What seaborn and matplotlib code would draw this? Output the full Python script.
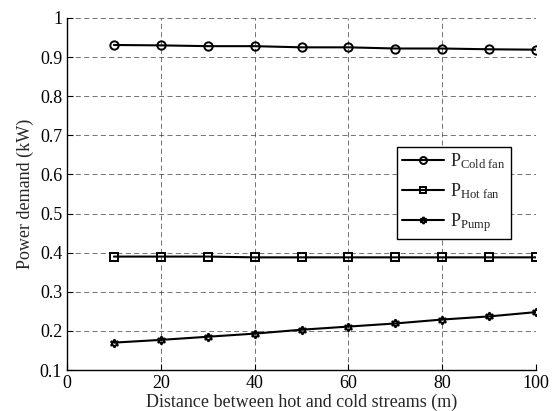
import matplotlib
matplotlib.use("Agg")
import matplotlib.pyplot as plt
import seaborn as sns
import pandas as pd

# Data
distance = [10, 20, 30, 40, 50, 60, 70, 80, 90, 100]
p_cold_fan = [0.931, 0.930, 0.928, 0.928, 0.925, 0.925, 0.922, 0.922, 0.920, 0.919]
p_hot_fan = [0.390, 0.390, 0.390, 0.388, 0.388, 0.388, 0.388, 0.388, 0.388, 0.388]
p_pump = [0.170, 0.177, 0.185, 0.193, 0.203, 0.211, 0.219, 0.229, 0.237, 0.248]

series = [
    ("P$_{\\mathrm{Cold\\ fan}}$", p_cold_fan, "o"),
    ("P$_{\\mathrm{Hot\\ fan}}$", p_hot_fan, "s"),
    ("P$_{\\mathrm{Pump}}$", p_pump, (6, 1, 0)),
]

sns.set_style("ticks")
plt.rcParams["font.family"] = ["Liberation Serif", "DejaVu Serif"]
plt.rcParams["mathtext.fontset"] = "custom"
plt.rcParams["mathtext.rm"] = "Liberation Serif"
plt.rcParams["mathtext.it"] = "Liberation Serif:italic"

fig = plt.figure(figsize=(5.53, 4.11), dpi=100)
ax = fig.add_axes([67 / 553, 41 / 411, 469 / 553, 352 / 411])

for label, values, marker in series:
    df = pd.DataFrame({"x": distance, "y": values})
    sns.lineplot(data=df, x="x", y="y", ax=ax, color="black", linewidth=1.5,
                 marker=marker, markersize=6, markerfacecolor="none",
                 markeredgecolor="black", markeredgewidth=1.4, label=label)

ax.set_xlim(0, 100)
ax.set_ylim(0.1, 1.0)
ax.set_xticks(range(0, 101, 20))
ax.set_yticks([0.1, 0.2, 0.3, 0.4, 0.5, 0.6, 0.7, 0.8, 0.9, 1.0])
ax.set_yticklabels(["0.1", "0.2", "0.3", "0.4", "0.5", "0.6", "0.7", "0.8", "0.9", "1"])
ax.grid(True, color="#333333", linestyle=(0, (6, 4)), linewidth=0.6, alpha=0.8)
ax.tick_params(direction="in", length=4, labelsize=13, colors="black")

for side in ["top", "right"]:
    ax.spines[side].set_visible(False)
for side in ["left", "bottom"]:
    ax.spines[side].set_color("black")
    ax.spines[side].set_linewidth(1.0)

ax.set_xlabel("Distance between hot and cold streams (m)", fontsize=13, labelpad=1)
ax.set_ylabel("Power demand (kW)", fontsize=13, labelpad=4)

leg = ax.legend(loc="lower left", bbox_to_anchor=(330 / 469, 131 / 352), fontsize=13,
                frameon=True, fancybox=False, handlelength=2.3,
                borderpad=0.28, labelspacing=0.55, handletextpad=0.35,
                borderaxespad=0.0)
leg.get_frame().set_edgecolor("black")
leg.get_frame().set_linewidth(1.0)
leg.get_frame().set_alpha(1)
for h in leg.get_lines():
    h.set_markersize(5)

fig.savefig("out.png", dpi=100)
